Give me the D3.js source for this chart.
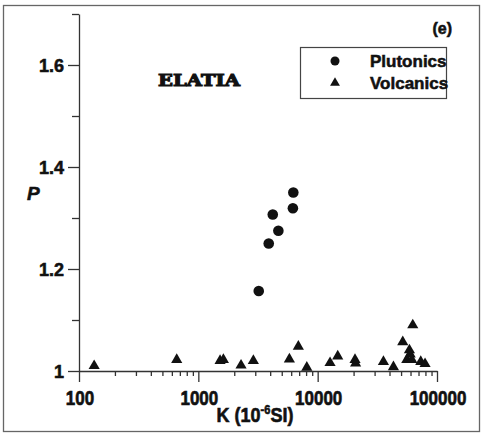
<!DOCTYPE html>
<html>
<head>
<meta charset="utf-8">
<script src="https://cdn.jsdelivr.net/npm/d3@7"></script>
<style>
  html, body { margin: 0; padding: 0; background: #fff; }
  svg { display: block; }
  text { font-family: "Liberation Sans", Arial, sans-serif; fill: #111; stroke: #111; stroke-width: 0.55px; }
</style>
</head>
<body>
<svg id="chart" width="482" height="437"></svg>
<script>
// Magnetic susceptibility K (10^-6 SI) vs anisotropy degree P
const plutonicK = [6250, 6200, 4205, 4685, 3890, 3208];
const plutonicP = [1.350, 1.319, 1.307, 1.275, 1.250, 1.157];

const volcanicK = [134, 659, 1521, 1622, 2280, 2891, 5794, 6887, 8110, 12700, 14730,
  20560, 20800, 35570, 43150, 51650, 62660, 58750, 59600, 55840, 61500, 73100, 79400];
const volcanicP = [1.010, 1.022, 1.020, 1.022, 1.011, 1.020, 1.023, 1.048, 1.007, 1.016, 1.029,
  1.022, 1.015, 1.018, 1.008, 1.057, 1.090, 1.041, 1.033, 1.022, 1.022, 1.018, 1.014];

const xMajorTicks = [100, 1000, 10000, 100000];
const xTickLabels = ["100", "1000", "10000", "100000"];
const yMajorTicks = [1, 1.2, 1.4, 1.6];
const yTickLabels = ["1", "1.2", "1.4", "1.6"];
const yMinorTicks = [1.1, 1.3, 1.5, 1.7];
const seriesNames = ["Plutonics", "Volcanics"];

const svg = d3.select("#chart");
const plotLeft = 79, plotRight = 437, plotTop = 14, plotBottom = 371;

const x = d3.scaleLog().domain([100, 100000]).range([plotLeft, plotRight]);
const y = d3.scaleLinear().domain([1, 1.7]).range([plotBottom, plotTop]);

// outer frame
svg.append("rect")
  .attr("x", 3.5).attr("y", 5.5).attr("width", 476).attr("height", 426)
  .attr("fill", "none").attr("stroke", "#666").attr("stroke-width", 1.3);

// minor x ticks: 2..9 within each decade
const xMinor = [];
for (let d = 100; d < 100000; d *= 10) for (let m = 2; m <= 9; m++) xMinor.push(d * m);

const axisColor = "#333";

// x axis
const gx = svg.append("g").attr("transform", `translate(0,${plotBottom})`);
gx.call(d3.axisBottom(x).tickValues(xMajorTicks).tickSize(11).tickSizeOuter(0).tickFormat(""));
const gxMinor = svg.append("g").attr("transform", `translate(0,${plotBottom})`);
gxMinor.call(d3.axisBottom(x).tickValues(xMinor).tickSize(5).tickSizeOuter(0).tickFormat(""));
gxMinor.select(".domain").remove();

// y axis
const gy = svg.append("g").attr("transform", `translate(${plotLeft},0)`);
gy.call(d3.axisLeft(y).tickValues(yMajorTicks).tickSize(11).tickSizeOuter(0).tickFormat(""));
const gyMinor = svg.append("g").attr("transform", `translate(${plotLeft},0)`);
gyMinor.call(d3.axisLeft(y).tickValues(yMinorTicks).tickSize(7).tickSizeOuter(0).tickFormat(""));
gyMinor.select(".domain").remove();

svg.selectAll(".domain, .tick line").attr("stroke", axisColor).attr("stroke-width", 1.3);

// tick labels
svg.append("g").selectAll("text").data(xMajorTicks).join("text")
  .attr("transform", d => `translate(${x(d) + 1},405) scale(1,1.2)`)
  .attr("text-anchor", "middle")
  .attr("font-size", 17).attr("font-weight", "bold")
  .text((d, i) => xTickLabels[i]);

svg.append("g").selectAll("text").data(yMajorTicks).join("text")
  .attr("x", 64).attr("y", d => y(d) + 6.5)
  .attr("text-anchor", "end")
  .attr("font-size", 18).attr("font-weight", "bold")
  .text((d, i) => yTickLabels[i]);

// axis titles
const xTitle = svg.append("text")
  .attr("transform", "translate(255,422) scale(1,1.12)")
  .attr("text-anchor", "middle")
  .attr("font-size", 18).attr("font-weight", "bold");
xTitle.append("tspan").text("K (10");
xTitle.append("tspan").attr("font-size", 11).attr("dy", -7).text("-6");
xTitle.append("tspan").attr("dy", 7).text("SI)");

svg.append("text")
  .attr("x", 27).attr("y", 200)
  .attr("font-size", 19).attr("font-weight", "bold").attr("font-style", "italic")
  .text("P");

// panel label and site name
svg.append("text")
  .attr("x", 452).attr("y", 34).attr("text-anchor", "end")
  .attr("font-size", 16).attr("font-weight", "bold")
  .text("(e)");

svg.append("text")
  .attr("x", 158).attr("y", 86)
  .style("font-family", "'DejaVu Serif', serif")
  .style("stroke-width", "1.1px")
  .attr("font-size", 17).attr("font-weight", "bold")
  .attr("textLength", 82).attr("lengthAdjust", "spacingAndGlyphs")
  .text("ELATIA");

// data points
const circleSym = d3.symbol().type(d3.symbolCircle).size(Math.PI * 5.3 * 5.3);
const triSym = d3.symbol().type(d3.symbolTriangle).size(54);

svg.append("g").selectAll("path").data(volcanicK).join("path")
  .attr("transform", (d, i) => `translate(${x(d)},${y(volcanicP[i])})`)
  .attr("d", triSym).attr("fill", "#111");

svg.append("g").selectAll("path").data(plutonicK).join("path")
  .attr("transform", (d, i) => `translate(${x(d)},${y(plutonicP[i])})`)
  .attr("d", circleSym).attr("fill", "#111");

// legend
const legend = svg.append("g");
legend.append("rect")
  .attr("x", 300.5).attr("y", 47.5).attr("width", 146).attr("height", 51)
  .attr("fill", "#fff").attr("stroke", "#444").attr("stroke-width", 1.2);
const legendSyms = [d3.symbol().type(d3.symbolCircle).size(Math.PI * 4.5 * 4.5),
                    d3.symbol().type(d3.symbolTriangle).size(42)];
seriesNames.forEach((name, i) => {
  legend.append("path")
    .attr("transform", `translate(335,${61 + i * 22})`)
    .attr("d", legendSyms[i]).attr("fill", "#111");
  legend.append("text")
    .attr("x", 370).attr("y", 67 + i * 21.5)
    .attr("font-size", 17).attr("font-weight", "bold")
    .text(name);
});
</script>
</body>
</html>
